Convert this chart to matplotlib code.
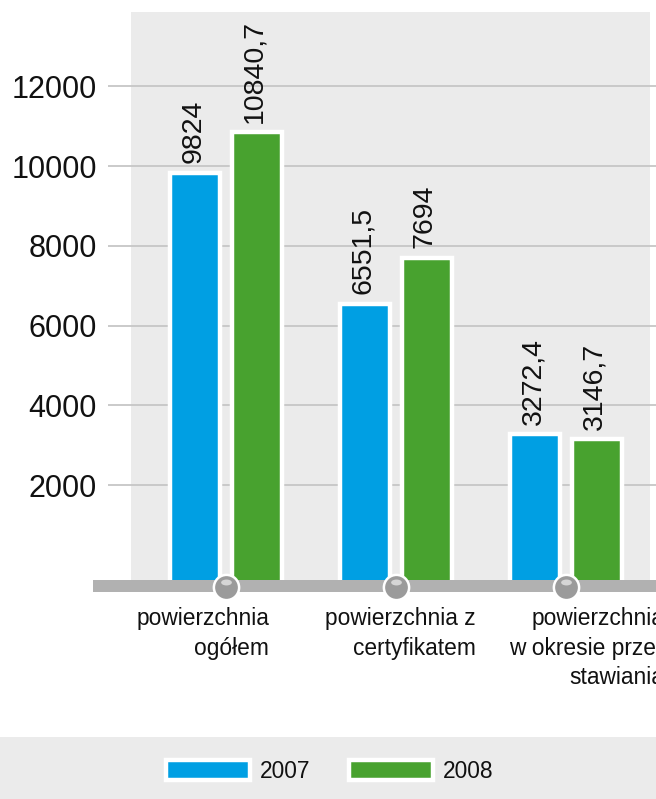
import numpy as np
import matplotlib.pyplot as plt
from matplotlib.patches import Rectangle
from matplotlib.path import Path
from matplotlib import transforms

plt.rcParams['font.family'] = ['Liberation Sans', 'DejaVu Sans']

# dane
kategorie = ['powierzchnia\nogółem',
             'powierzchnia z\ncertyfikatem',
             'powierzchnia\nw okresie prze-\nstawiania']
lata = ['2007', '2008']
wartosci_2007 = [9824, 6551.5, 3272.4]
wartosci_2008 = [10840.7, 7694, 3146.7]
etykiety_2007 = ['9824', '6551,5', '3272,4']
etykiety_2008 = ['10840,7', '7694', '3146,7']
os_y = [2000, 4000, 6000, 8000, 10000, 12000]

NIEBIESKI = '#009fe3'
ZIELONY = '#48a22f'
SZARY_TLO = '#ebebeb'
SZARY_LINIA = '#b1b1b1'
TEKST = '#111111'

W, H = 656, 799


def fx(px):
    return px / W


def fy(py):
    return 1 - py / H


fig = plt.figure(figsize=(W / 100, H / 100), dpi=100)
ax = fig.add_axes([fx(108), fy(600), fx(656) - fx(108), fy(12) - fy(600)])
ax.set_xlim(-0.694, 2.529)
ax.set_ylim(-877, 13860)
ax.patch.set_alpha(0)
for s in ax.spines.values():
    s.set_visible(False)

# tlo wykresu
ax.axvspan(-0.559, 2.494, ymin=0.03, ymax=1, color=SZARY_TLO, zorder=0.1, lw=0)

ax.set_yticks(os_y)
ax.set_yticklabels([str(v) for v in os_y])
ax.set_xticks([])
ax.tick_params(axis='y', length=0, pad=8, labelsize=22, labelcolor=TEKST)
ax.yaxis.grid(True, color='#c6c6c6', lw=1.3)
ax.set_axisbelow(True)

x = np.arange(len(kategorie))
BAZA = -450
szer = 0.294
ax.bar(x - 0.18, np.array(wartosci_2007) - BAZA, bottom=BAZA, width=szer,
       color=NIEBIESKI, edgecolor='white', linewidth=3.2, label=lata[0], zorder=2)
ax.bar(x + 0.18, np.array(wartosci_2008) - BAZA, bottom=BAZA, width=szer,
       color=ZIELONY, edgecolor='white', linewidth=3.2, label=lata[1], zorder=2)

for xi, v, t in zip(x - 0.18, wartosci_2007, etykiety_2007):
    ax.annotate(t, (xi, v), xytext=(-1.5, 7), textcoords='offset points',
                rotation=90, ha='center', va='bottom', fontsize=20.5, color=TEKST, zorder=5)
for xi, v, t in zip(x + 0.18, wartosci_2008, etykiety_2008):
    ax.annotate(t, (xi, v), xytext=(-1.5, 7), textcoords='offset points',
                rotation=90, ha='center', va='bottom', fontsize=20.5, color=TEKST, zorder=5)

# os pozioma z kolkami
ax.add_patch(Rectangle((-15 / 548, -677), 1 + 15 / 548, 301,
                       transform=ax.get_yaxis_transform(), color=SZARY_LINIA,
                       lw=0, clip_on=False, zorder=3))
ax.scatter(x, [-551] * len(x), s=330, c='#9b9b9b', edgecolors='white',
           linewidths=1.8, zorder=4, clip_on=False)
elipsa = Path.unit_circle().transformed(transforms.Affine2D().scale(1, 0.55))
ax.scatter(x, [-551 + 130] * len(x), s=60, marker=elipsa, c='#d6d6d6',
           linewidths=0, zorder=4.5, clip_on=False)

# podpisy kategorii
tr = transforms.blended_transform_factory(ax.transData, fig.transFigure)
przesuniecia = [0.253, 0.47, 0.576]
for xi, k, d in zip(x, kategorie, przesuniecia):
    ax.text(xi + d, fy(607), k, transform=tr, ha='right', va='top',
            multialignment='right', linespacing=1.37, fontsize=16.4,
            color=TEKST, clip_on=False)

# pasek legendy
fig.patches.append(Rectangle((0, 0), 1, fy(737), transform=fig.transFigure,
                             color=SZARY_TLO, lw=0, zorder=0))
fig.legend(loc='center', bbox_to_anchor=(fx(330), fy(771)), ncol=2,
           frameon=False, fontsize=16.4, handlelength=3.68, handleheight=0.97,
           handletextpad=0.45, columnspacing=1.7, labelcolor=TEKST)

fig.savefig('out.png', dpi=100)
